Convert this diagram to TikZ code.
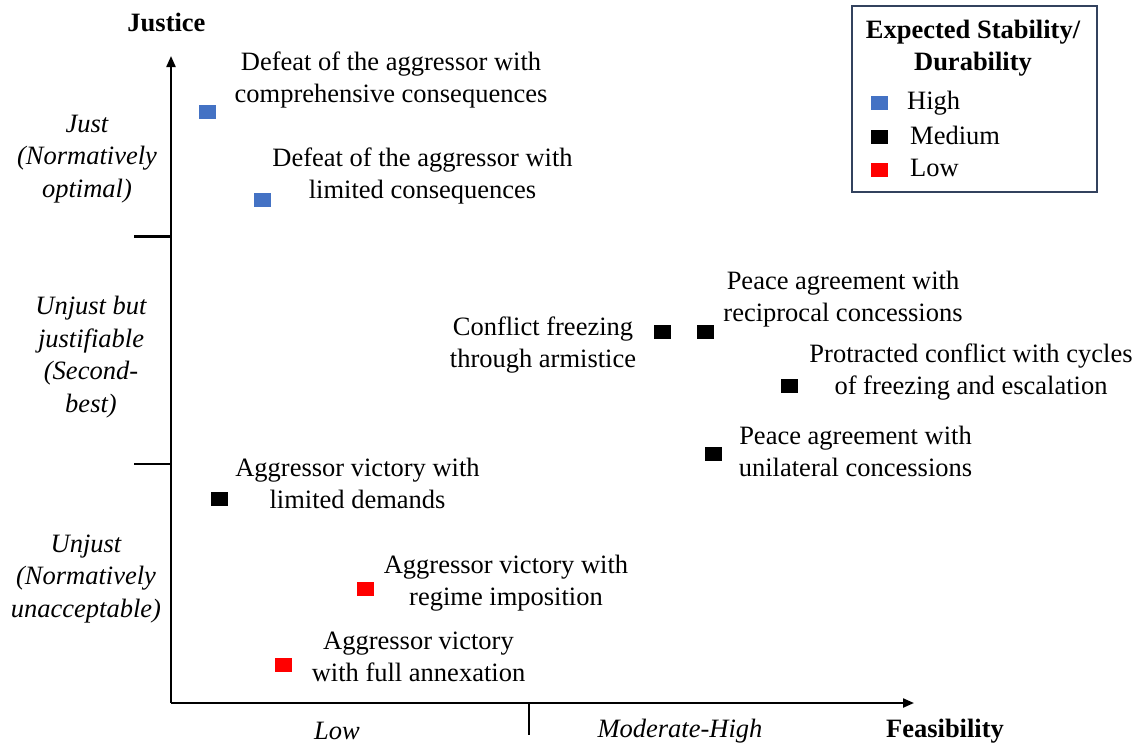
\documentclass[tikz,border=0pt]{standalone}
\usepackage{fontspec}
\setmainfont{Liberation Serif}
\usetikzlibrary{arrows.meta}
\definecolor{hiblue}{HTML}{4472C4}
\definecolor{lowred}{HTML}{FF0000}
\definecolor{legframe}{HTML}{33425E}
\tikzset{
  txt/.style={inner sep=0pt, align=center, yshift=-2pt, font=\fontsize{26.5}{32}\selectfont},
  cat/.style={txt, font=\fontsize{26.5}{32.5}\selectfont\itshape},
  ttl/.style={txt, font=\fontsize{26.5}{32}\selectfont\bfseries},
  sq/.style={inner sep=0pt, minimum width=17pt, minimum height=14pt, draw=none},
  axis/.style={line width=2.1pt, black},
  tick/.style={line width=2.1pt, black},
}
\begin{document}
\begin{tikzpicture}[x=1pt, y=-1pt]
\useasboundingbox (0,0) rectangle (1142,745);
% axes
\coordinate (O) at (171,703);
\coordinate (ytop) at (171,56);
\coordinate (xend) at (914,703);
\draw[axis, -{Triangle[length=11pt,width=9pt]}] (O) -- (ytop);
\draw[axis, -{Triangle[length=11pt,width=9pt]}] (O) -- (xend);
% ticks
\coordinate (t1a) at (134,236.5); \coordinate (t1b) at (171,236.5);
\coordinate (t2a) at (134,464);   \coordinate (t2b) at (171,464);
\coordinate (t3a) at (529,703);   \coordinate (t3b) at (529,735);
\draw[tick] (t1a) -- (t1b);
\draw[tick] (t2a) -- (t2b);
\draw[tick] (t3a) -- (t3b);
% axis titles
\node[ttl] (justice) at (166.5,20) {Justice};
\node[ttl] (feas) at (945,729) {Feasibility};
\node[cat] (low) at (337,729) {Low};
\node[cat] (modhigh) at (680,729) {Moderate-High};
% category labels
\node[cat] (just) at (87,157) {Just\\(Normatively\\optimal)};
\node[cat] (second) at (91,355) {Unjust but\\justifiable\\(Second-\\best)};
\node[cat] (unjust) at (86,577) {Unjust\\(Normatively\\unacceptable)};
% points
\node[sq, fill=hiblue] (p1) at (207,112) {};
\node[sq, fill=hiblue] (p2) at (262,200) {};
\node[sq, fill=black] (p3) at (662,332) {};
\node[sq, fill=black] (p4) at (705,332) {};
\node[sq, fill=black] (p5) at (789,386) {};
\node[sq, fill=black] (p6) at (713.5,454) {};
\node[sq, fill=black] (p7) at (219,499) {};
\node[sq, fill=lowred] (p8) at (365,589) {};
\node[sq, fill=lowred] (p9) at (283.5,665) {};
% point labels
\node[txt] (l1) at (391,77.5) {Defeat of the aggressor with\\comprehensive consequences};
\node[txt] (l2) at (422.5,174) {Defeat of the aggressor with\\limited consequences};
\node[txt] (l3) at (843,297) {Peace agreement with\\reciprocal concessions};
\node[txt] (l4) at (543,343) {Conflict freezing\\through armistice};
\node[txt] (l5) at (971,370.5) {Protracted conflict with cycles\\of freezing and escalation};
\node[txt] (l6) at (855.5,449.5) {Peace agreement with\\unilateral concessions};
\node[txt] (l7) at (357.5,481.5) {Aggressor victory with\\limited demands};
\node[txt] (l8) at (506,581) {Aggressor victory with\\regime imposition};
\node[txt] (l9) at (418.5,655) {Aggressor victory\\with full annexation};
% legend
\draw[line width=2pt, draw=legframe] (852,5.5) rectangle (1096.5,192);
\node[ttl] (legt) at (973,46) {Expected Stability/\\Durability};
\node[sq, fill=hiblue] (k1) at (879.5,102.5) {};
\node[sq, fill=black] (k2) at (879.5,136.5) {};
\node[sq, fill=lowred] (k3) at (879.5,169.5) {};
\node[txt, anchor=west] (kt1) at (907,101) {High};
\node[txt, anchor=west] (kt2) at (910,133.5) {Medium};
\node[txt, anchor=west] (kt3) at (910,166) {Low};
\end{tikzpicture}
\end{document}
